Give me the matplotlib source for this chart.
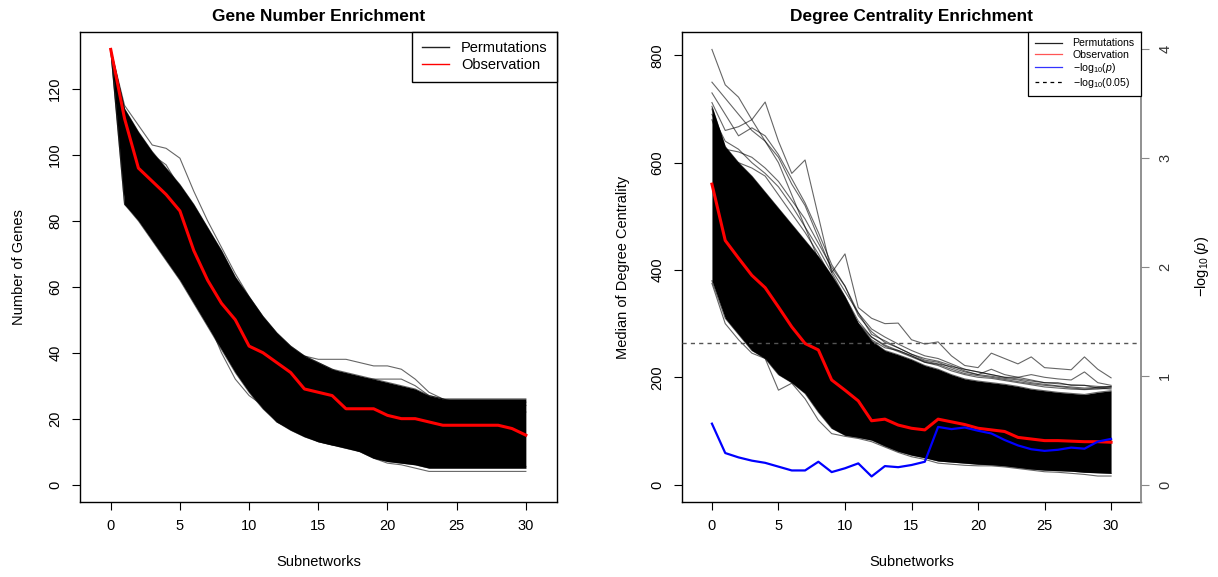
import numpy as np
import matplotlib
matplotlib.use("Agg")
import matplotlib.pyplot as plt
from matplotlib.lines import Line2D

plt.rcParams['font.family'] = ['Liberation Sans', 'DejaVu Sans']
plt.rcParams['mathtext.fontset'] = 'custom'
plt.rcParams['mathtext.rm'] = 'Liberation Sans'
plt.rcParams['mathtext.it'] = 'Liberation Sans:italic'

subnetworks = np.arange(31)

# ---- gene number enrichment ----
obs_genes = [132, 111, 96, 92, 88, 83, 71, 62, 55, 50, 42, 40, 37, 34, 29, 28, 27, 23, 23, 23,
             21, 20, 20, 19, 18, 18, 18, 18, 18, 17, 15]
# band covered by the permutation curves
perm_hi_genes = [132, 114, 107, 101, 96, 91, 85, 78, 71, 63, 57, 51, 46, 42, 39, 37, 35, 34, 33, 32,
                 31, 30, 29, 27, 26, 26, 26, 26, 26, 26, 26]
perm_lo_genes = [132, 85, 80, 74, 68, 62, 55, 48, 41, 34, 28, 23, 19, 16.5, 14.5, 13, 12, 11, 10, 8,
                 7, 6.5, 6, 5, 5, 5, 5, 5, 5, 5, 5]
# individual permutation curves standing out of the band
perm_out_genes = [
    [132, 113, 106, 100, 97, 90, 82, 74, 66, 58, 52, 47, 44, 41, 39, 38, 38, 38, 37, 36,
     36, 35, 32, 28, 26, 24, 23, 23, 22, 22, 22],
    [132, 112, 105, 100, 95, 89, 83, 76, 69, 61, 55, 49, 45, 41, 38, 36, 34, 32, 32, 32,
     32, 32, 30, 27, 26, 25, 25, 24, 24, 24, 24],
    [132, 115, 109, 103, 102, 99, 89, 80, 72, 64, 57, 51, 46, 42, 39, 37, 35, 33, 31, 30,
     29, 28, 27, 26, 25, 25, 25, 25, 25, 25, 25],
    [132, 85, 81, 75, 72, 66, 58, 50, 40, 32, 27, 24, 19, 17, 15, 13, 12, 11.5, 10, 8,
     6.5, 6, 5, 4, 4, 4, 4, 4, 4, 4, 4],
    [132, 88, 82, 77, 71, 64, 57, 49, 42, 35, 29, 25, 20, 18, 16, 14, 13, 12, 10.5, 9,
     8, 7, 6.5, 6, 5.5, 5.5, 5.5, 5.5, 5.5, 5.5, 5.5],
]

# ---- degree centrality enrichment ----
obs_degree = [560, 455, 422, 390, 367, 331, 294, 263, 251, 195, 176, 156, 119, 122, 111, 105,
              102, 122, 117, 112, 105, 102, 99, 88, 85, 82, 82, 81, 80, 80, 79]
perm_hi_degree = [705, 630, 600, 575, 545, 515, 485, 455, 425, 390, 350, 300, 268, 250, 242, 233,
                  222, 215, 205, 197, 193, 190, 187, 183, 178, 175, 172, 170, 168, 172, 175]
perm_lo_degree = [380, 310, 280, 250, 235, 205, 190, 170, 135, 105, 92, 88, 83, 72, 62, 55, 50, 44,
                  42, 40, 38, 37, 35, 32, 29, 27, 26, 25, 23, 22, 21]
perm_out_degree = [
    [811, 745, 722, 680, 640, 600, 540, 480, 420, 370, 330, 300, 275, 260, 250, 240, 230, 225,
     220, 215, 210, 205, 200, 197, 193, 190, 188, 186, 185, 183, 182],
    [712, 660, 667, 680, 713, 640, 580, 605, 500, 395, 430, 330, 310, 300, 301, 270, 262, 266,
     240, 222, 218, 245, 235, 225, 238, 218, 216, 214, 238, 215, 199],
    [750, 720, 690, 660, 640, 610, 560, 520, 460, 400, 360, 320, 290, 275, 262, 250, 240, 235,
     225, 215, 210, 205, 200, 200, 195, 190, 190, 185, 185, 180, 178],
    [730, 690, 650, 665, 650, 615, 570, 525, 470, 410, 370, 320, 280, 268, 255, 243, 232, 228,
     218, 210, 205, 215, 205, 200, 205, 200, 197, 195, 210, 190, 185],
    [690, 640, 625, 600, 580, 555, 520, 480, 440, 395, 350, 305, 275, 258, 248, 238, 228, 222,
     212, 205, 200, 198, 194, 190, 186, 182, 180, 178, 177, 178, 180],
    [700, 625, 620, 610, 590, 565, 530, 495, 450, 405, 370, 315, 285, 265, 255, 243, 235, 230,
     222, 212, 205, 202, 198, 195, 190, 187, 184, 182, 180, 181, 183],
    [680, 610, 600, 590, 575, 540, 505, 470, 430, 385, 345, 300, 270, 255, 250, 240, 228, 224,
     215, 207, 203, 200, 196, 192, 188, 185, 183, 180, 178, 180, 182],
    [375, 300, 270, 245, 235, 176, 189, 160, 120, 95, 90, 86, 80, 70, 60, 52, 47, 40, 38, 36,
     35, 35, 33, 30, 27, 24, 23, 21, 19, 16, 16],
]
neg_log_p = [0.56, 0.29, 0.25, 0.22, 0.20, 0.165, 0.13, 0.13, 0.21, 0.115, 0.15, 0.195, 0.075,
             0.17, 0.16, 0.18, 0.21, 0.53, 0.51, 0.525, 0.495, 0.47, 0.41, 0.36, 0.325, 0.31,
             0.32, 0.34, 0.33, 0.395, 0.42]
p_cutoff = 0.05

FS = 10.5
W, H = 1218, 577
fig = plt.figure(figsize=(W / 100, H / 100), dpi=100)
ax1 = fig.add_axes([79.6 / W, 1 - 502 / H, 477.4 / W, 470 / H])
ax2 = fig.add_axes([682 / W, 1 - 502 / H, 459 / W, 470 / H])


def r_style(ax):
    for s in ax.spines.values():
        s.set_linewidth(1.0)
    ax.tick_params(direction='out', length=5.5, width=0.8, labelsize=FS, pad=7)
    ax.set_xlim(-2.25, 32.25)
    ax.set_xticks(range(0, 31, 5))
    plt.setp(ax.get_yticklabels(), rotation=90, va='center')
    ax.set_xlabel('Subnetworks', fontsize=FS)
    ax.xaxis.set_label_coords(0.5, -0.112)


# left panel
ax1.fill_between(subnetworks, perm_lo_genes, perm_hi_genes, color='black', lw=0)
for line in [perm_hi_genes, perm_lo_genes] + perm_out_genes:
    ax1.plot(subnetworks, line, color='black', alpha=0.6, lw=0.8)
ax1.plot(subnetworks, obs_genes, color='red', lw=2.2)
ax1.set_ylim(-5.28, 137.28)
ax1.set_yticks(range(0, 121, 20))
r_style(ax1)
ax1.set_ylabel('Number of Genes', fontsize=FS)
ax1.yaxis.set_label_coords(-0.112, 0.5)
ax1.set_title('Gene Number Enrichment', fontsize=12.4, fontweight='bold', pad=8)
ax1.legend([Line2D([], [], color='#222222', lw=1), Line2D([], [], color='red', lw=1)],
           ['Permutations', 'Observation'], loc='upper right', fontsize=FS,
           frameon=True, fancybox=False, edgecolor='black', framealpha=1,
           borderaxespad=0, handlelength=1.9, handletextpad=0.8, borderpad=0.65,
           labelspacing=0.2).get_frame().set_linewidth(1.0)

# right panel
ax2.fill_between(subnetworks, perm_lo_degree, perm_hi_degree, color='black', lw=0)
for line in [perm_hi_degree, perm_lo_degree] + perm_out_degree:
    ax2.plot(subnetworks, line, color='black', alpha=0.6, lw=0.8)
ax2.plot(subnetworks, obs_degree, color='red', lw=2.2)
ax2.set_ylim(-32.4, 843.5)
ax2.set_yticks(range(0, 801, 200))
r_style(ax2)
ax2.spines['right'].set_visible(False)
ax2.set_ylabel('Median of Degree Centrality', fontsize=FS)
ax2.yaxis.set_label_coords(-0.113, 0.5)
ax2.set_title('Degree Centrality Enrichment', fontsize=12.4, fontweight='bold', pad=8)

ax3 = ax2.twinx()
ax3.plot(subnetworks, neg_log_p, color='blue', lw=1.6)
ax3.axhline(-np.log10(p_cutoff), color='#555555', lw=1.0, ls=(0, (3, 3)))
ax3.set_ylim(-0.16, 4.16)
ax3.set_yticks(range(5))
ax3.spines['right'].set_color('#888888')
ax3.spines['right'].set_linewidth(1.3)
for s in ['top', 'left', 'bottom']:
    ax3.spines[s].set_visible(False)
ax3.tick_params(axis='y', direction='out', length=5.5, width=0.8, labelsize=FS, pad=7,
                color='#888888', labelcolor='#333333')
plt.setp(ax3.get_yticklabels(), rotation=90, va='center')
ax3.set_ylabel(r'$-\log_{10}(p)$', fontsize=FS)
ax3.yaxis.set_label_coords(1.113, 0.5)

handles = [Line2D([], [], color='#222222', lw=0.9),
           Line2D([], [], color='#ff5555', lw=0.9),
           Line2D([], [], color='#3333ff', lw=0.9),
           Line2D([], [], color='black', lw=0.9, ls=(0, (3, 3)))]
labels = ['Permutations', 'Observation', r'$-\mathrm{log}_{10}(p)$', r'$-\mathrm{log}_{10}(0.05)$']
ax3.legend(handles, labels, loc='upper right', fontsize=7.6, frameon=True, fancybox=False,
           edgecolor='black', framealpha=1, borderaxespad=0, handlelength=2.6,
           handletextpad=1.0, borderpad=0.6, labelspacing=0.12).get_frame().set_linewidth(0.9)

fig.savefig('out.png', dpi=100)
